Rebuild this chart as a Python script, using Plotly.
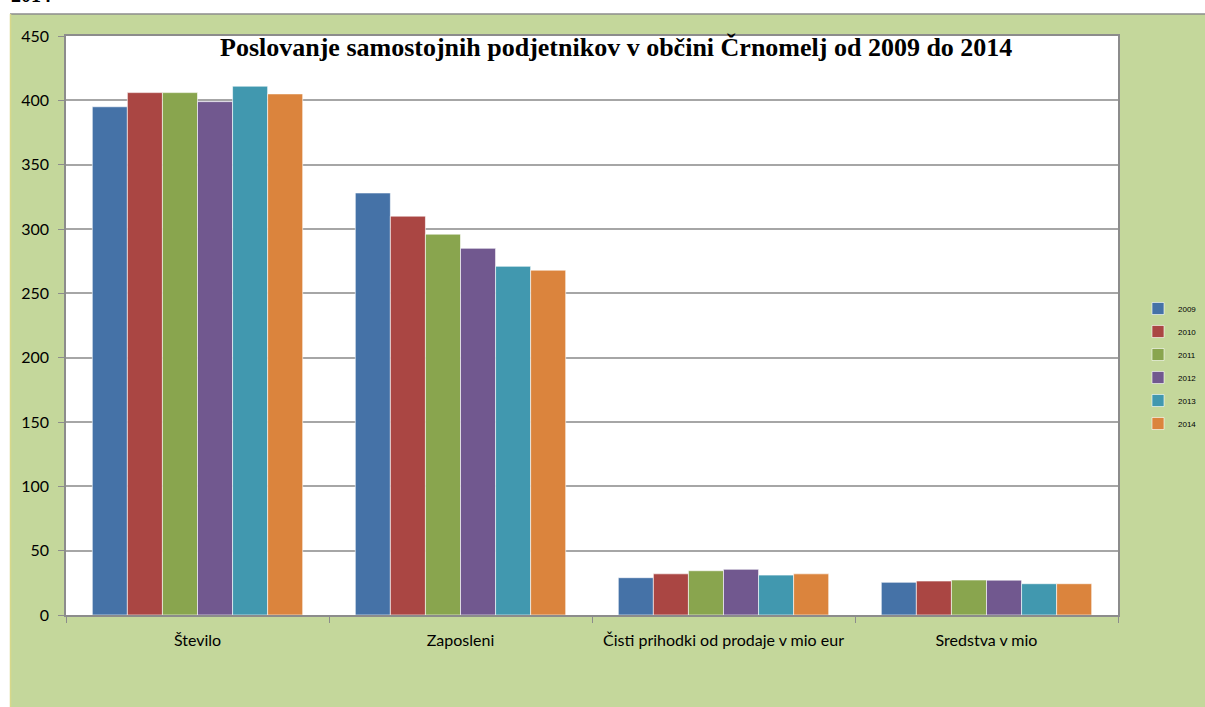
import plotly.graph_objects as go

categories = ["Število", "Zaposleni", "Čisti prihodki od prodaje v mio eur", "Sredstva v mio"]
years = ["2009", "2010", "2011", "2012", "2013", "2014"]
values = {
    "2009": [395, 328, 29, 25.4],
    "2010": [406, 310, 32, 26.4],
    "2011": [406, 296, 34.4, 27.2],
    "2012": [399, 285, 35.5, 27.1],
    "2013": [411, 271, 31, 24.3],
    "2014": [405, 268, 32, 24.3],
}
colors = ["#4572A7", "#AA4643", "#89A54E", "#71588F", "#4198AF", "#DB843D"]
y_ticks = [0, 50, 100, 150, 200, 250, 300, 350, 400, 450]

W, H = 1205, 707
L, R, T, B = 66, 1118, 36, 615
GREEN = "#C4D79B"


def px(x):
    return (x - L) / (R - L)


def py(y):
    return (B - y) / (B - T)


fig = go.Figure()
for i, yr in enumerate(years):
    fig.add_trace(go.Bar(
        name=yr, x=categories, y=values[yr],
        marker=dict(color=colors[i], line=dict(color="rgba(255,255,255,0.6)", width=1)),
        legendgroup=yr,
    ))

fig.update_layout(
    width=W, height=H, autosize=False,
    margin=dict(l=L, r=W - R, t=T, b=H - B, pad=0, autoexpand=False),
    paper_bgcolor=GREEN,
    plot_bgcolor="white",
    barmode="group", bargap=0.2, bargroupgap=0,
    font=dict(family="Lato, Open Sans, sans-serif", size=16, color="#000000"),
    showlegend=True,
    legend=dict(
        x=px(1138), y=py(294), xanchor="left", yanchor="top",
        font=dict(size=8, family="Liberation Sans, Arial"),
        bgcolor="rgba(0,0,0,0)", tracegroupgap=4,
        itemwidth=30, traceorder="grouped",
    ),
    xaxis=dict(
        showline=True, linecolor="#8C8C8C", linewidth=1.5, mirror=True,
        ticks="outside", tickson="boundaries", ticklen=6, tickcolor="#8C8C8C",
        tickfont=dict(size=16), showgrid=False, ticklabelstandoff=10,
    ),
    yaxis=dict(
        range=[0, 450], tickvals=y_ticks, showline=True, linecolor="#8C8C8C",
        linewidth=1.5, mirror=True, ticks="outside", ticklen=6, tickcolor="#8C8C8C",
        showgrid=True, gridcolor="#A6A6A6", gridwidth=1.5, zeroline=False,
        tickfont=dict(size=16), ticklabelstandoff=6,
    ),
    shapes=[
        dict(type="rect", xref="paper", yref="paper", x0=px(-5), x1=px(W + 5), y0=py(-5), y1=py(14),
             fillcolor="white", line=dict(width=0), layer="below"),
        dict(type="rect", xref="paper", yref="paper", x0=px(-5), x1=px(10), y0=py(-5), y1=py(H + 5),
             fillcolor="white", line=dict(width=0), layer="below"),
        dict(type="line", xref="paper", yref="paper", x0=px(10), x1=px(W + 5), y0=py(14), y1=py(14),
             line=dict(color="#8C8C8C", width=1.5)),
        dict(type="line", xref="paper", yref="paper", x0=px(10.5), x1=px(10.5), y0=py(14), y1=py(H + 5),
             line=dict(color="#D8D88A", width=1.5)),
    ],
    annotations=[
        dict(text="<b>Poslovanje samostojnih podjetnikov v občini Črnomelj od 2009 do 2014</b>",
             xref="paper", yref="paper", x=px(616), y=py(48), xanchor="center", yanchor="middle",
             showarrow=False, font=dict(family="Liberation Serif, Times New Roman, serif", size=26, color="black")),
        dict(text="<b>2014</b>", xref="paper", yref="paper", x=px(9), y=py(8),
             xanchor="left", yanchor="bottom", showarrow=False,
             font=dict(family="Liberation Serif, Times New Roman, serif", size=20, color="black")),
    ],
)

fig.write_html(
    "out.html",
    config={"displayModeBar": False, "responsive": False},
    post_script="document.body.style.margin='0';document.body.style.overflow='hidden';",
)
